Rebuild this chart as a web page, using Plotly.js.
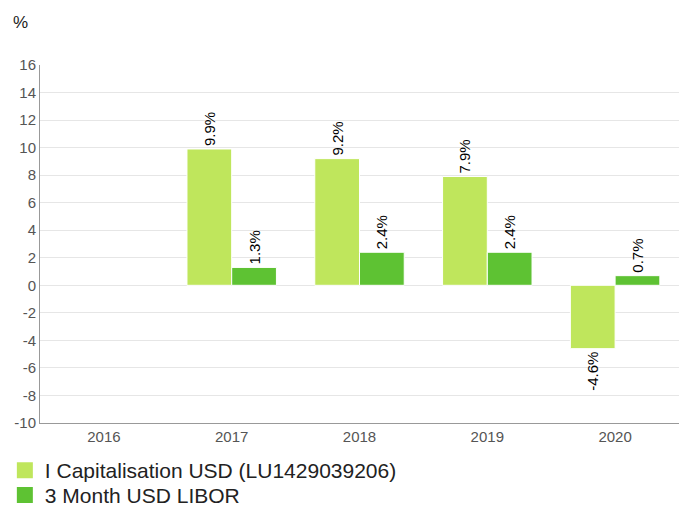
<!DOCTYPE html>
<html><head><meta charset="utf-8">
<script src="https://cdn.plot.ly/plotly-3.0.1.min.js"></script>
<style>html,body{margin:0;padding:0;background:#fff}#chart{width:679px;height:506px}</style>
</head><body><div id="chart"></div>
<script>
var years = ['2016','2017','2018','2019','2020'];
var fundName = 'I Capitalisation USD (LU1429039206)';
var benchName = '3 Month USD LIBOR';
var fundValues = [null, 9.9, 9.2, 7.9, -4.6];
var benchValues = [null, 1.3, 2.4, 2.4, 0.7];
var yTicks = [-10,-8,-6,-4,-2,0,2,4,6,8,10,12,14,16];
var yTickText = ['-10','-8','-6','-4','-2','0','2','4','6','8','10','12','14','16'];

var c1 = '#bfe65c', c2 = '#5ec233';
function bar(vals, col){
  return {type:'bar', x:years, y:vals, marker:{color:col, line:{color:'#ffffff', width:1}},
    text: vals.map(function(v){return v===null?'':(v<0?'-':'')+Math.abs(v).toFixed(1)+'%';}),
    textposition:'outside', textangle:-90, cliponaxis:false,
    textfont:{family:'Liberation Sans, Arial, sans-serif', size:15, color:'#000'},
    showlegend:false, hoverinfo:'skip'};
}
function leg(name,col,lg){
  return {type:'scatter', mode:'markers', x:[null], y:[null], name:name, legend:lg,
    marker:{symbol:'square', size:20, color:col}, hoverinfo:'skip'};
}
var data = [bar(fundValues,c1), bar(benchValues,c2), leg(fundName,c1,'legend'), leg(benchName,c2,'legend2')];
var legFont = {size:21, color:'#222'};
var layout = {
  width:679, height:506,
  margin:{l:40, r:0, t:65, b:83, autoexpand:false},
  paper_bgcolor:'#fff', plot_bgcolor:'#fff',
  font:{family:'Liberation Sans, Arial, sans-serif', color:'#555', size:15},
  barmode:'group', bargap:0.3, bargroupgap:0,
  xaxis:{type:'category', categoryarray:years, showgrid:false, showline:true, linecolor:'#999', linewidth:1,
    ticks:'', tickfont:{size:15, color:'#555'}, fixedrange:true},
  yaxis:{range:[-10,16], tickvals:yTicks, ticktext:yTickText, showgrid:true, gridcolor:'#e6e6e6', zeroline:false,
    showline:true, linecolor:'#999', linewidth:1, ticks:'', tickfont:{size:15, color:'#555'}},
  showlegend:true,
  legend:{orientation:'v', x:-0.055, xanchor:'left', y:-0.0754, yanchor:'top',
    font:legFont, bgcolor:'rgba(0,0,0,0)'},
  legend2:{orientation:'v', x:-0.055, xanchor:'left', y:-0.145, yanchor:'top',
    font:legFont, bgcolor:'rgba(0,0,0,0)'},
  annotations:[{text:'%', xref:'paper', yref:'paper', x:-0.031, y:1.12, xanchor:'center', yanchor:'middle',
    showarrow:false, font:{size:17, color:'#222'}}]
};
Plotly.newPlot('chart', data, layout, {staticPlot:true});
</script></body></html>
